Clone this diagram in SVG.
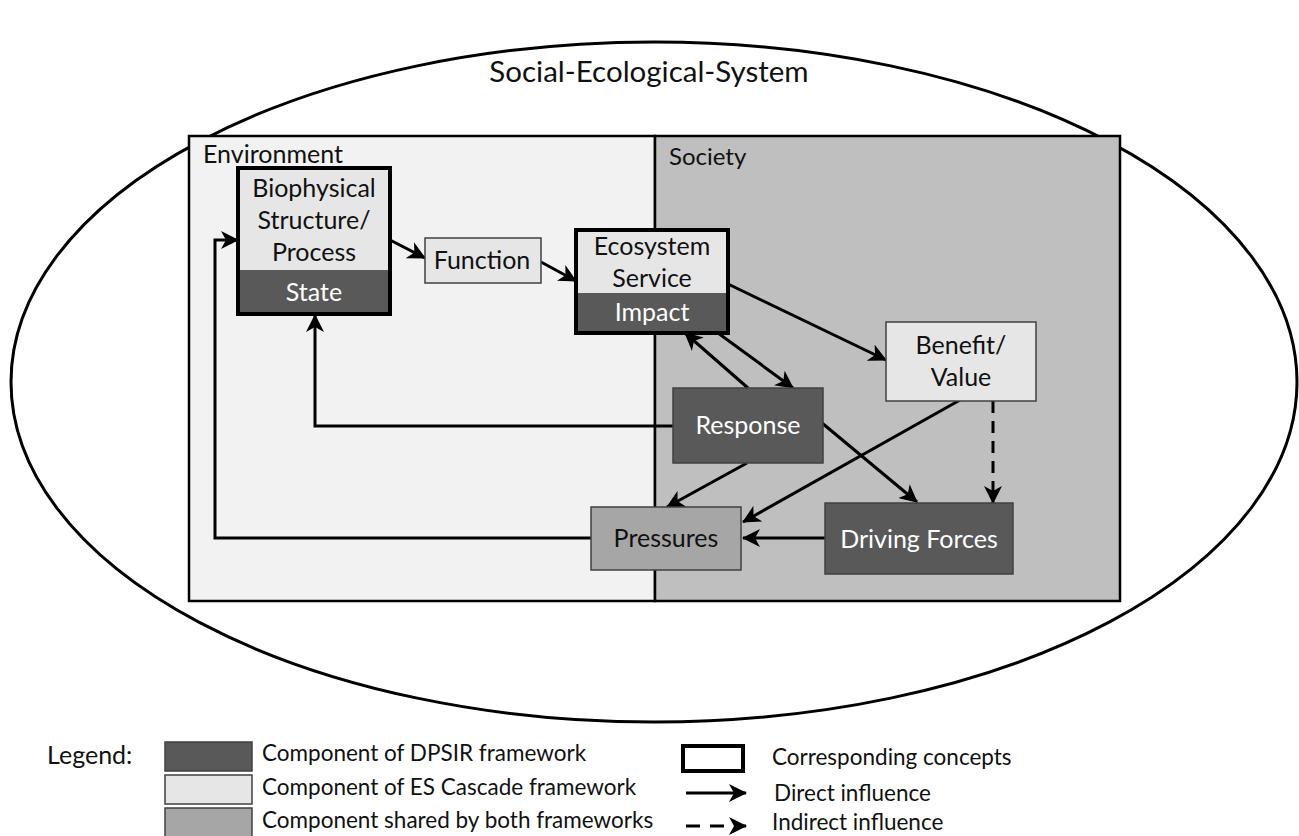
<svg xmlns="http://www.w3.org/2000/svg" width="1299" height="836" viewBox="0 0 1299 836">
<style>
text{font-family:Lato,"Liberation Sans",sans-serif;fill:#111}
.t{font-size:25px;text-anchor:middle}
.w{fill:#fff}
.lg{font-size:22.5px}
.dark{fill:#595959}
.light{fill:#e6e6e6}
.mid{fill:#a6a6a6}
.thin{stroke:#404040;stroke-width:1.5}
.thick{fill:none;stroke:#000;stroke-width:4}
.c{fill:none;stroke:#000;stroke-width:3}
.d{stroke-dasharray:12 8}
</style>
<defs>
<marker id="ah" markerUnits="userSpaceOnUse" markerWidth="20" markerHeight="18" refX="17" refY="9" orient="auto" viewBox="0 0 20 18">
<path d="M0,0 L18,9 L0,18 L5,9 z" fill="#000"/>
</marker>
</defs>
<rect width="1299" height="836" fill="#fff"/>
<g id="ses">
<ellipse cx="654" cy="382" rx="643" ry="340" fill="#fff" stroke="#000" stroke-width="3"/>
<text x="649" y="82" style="font-size:29.5px;text-anchor:middle">Social-Ecological-System</text>
</g>
<g id="environment">
<rect x="189" y="136" width="466" height="465" fill="#f2f2f2" stroke="#000" stroke-width="2.5"/>
<text x="203" y="163" style="font-size:25px">Environment</text>
</g>
<g id="society">
<rect x="655" y="136" width="465" height="465" fill="#bfbfbf" stroke="#000" stroke-width="2.5"/>
<text x="669" y="165" style="font-size:24px">Society</text>
</g>
<g id="connectors">
<line class="c" x1="390" y1="240" x2="425" y2="258" marker-end="url(#ah)"/>
<line class="c" x1="541" y1="262" x2="576" y2="281" marker-end="url(#ah)"/>
<polyline class="c" points="591,538 215,538 215,240 238,240" marker-end="url(#ah)"/>
<polyline class="c" points="673,426 315,426 315,315" marker-end="url(#ah)"/>
<line class="c" x1="728" y1="284" x2="886" y2="360" marker-end="url(#ah)"/>
<line class="c" x1="748" y1="388" x2="685" y2="333" marker-end="url(#ah)"/>
<line class="c" x1="718" y1="333" x2="793" y2="388" marker-end="url(#ah)"/>
<line class="c" x1="822" y1="423" x2="917" y2="502" marker-end="url(#ah)"/>
<line class="c" x1="747" y1="463" x2="667" y2="507" marker-end="url(#ah)"/>
<line class="c" x1="960" y1="400" x2="743" y2="522" marker-end="url(#ah)"/>
<line class="c" x1="825" y1="538" x2="743" y2="538" marker-end="url(#ah)"/>
<line class="c d" x1="993" y1="401" x2="993" y2="503" marker-end="url(#ah)"/>
</g>
<g id="biophysical">
<rect class="light" x="238" y="168" width="152" height="102"/>
<rect class="dark" x="238" y="270" width="152" height="44"/>
<rect class="thick" x="238" y="168" width="152" height="146"/>
<text class="t" x="314" y="197">Biophysical</text>
<text class="t" x="314" y="229">Structure/</text>
<text class="t" x="314" y="261">Process</text>
<text class="t w" x="314" y="301">State</text>
</g>
<g id="function">
<rect class="light thin" x="425" y="238" width="116" height="45"/>
<text class="t" x="482" y="269">Function</text>
</g>
<g id="ecosystem">
<rect class="light" x="576" y="230" width="152" height="63"/>
<rect class="dark" x="576" y="293" width="152" height="40"/>
<rect class="thick" x="576" y="230" width="152" height="103"/>
<text class="t" x="652" y="255">Ecosystem</text>
<text class="t" x="652" y="287">Service</text>
<text class="t w" x="652" y="321">Impact</text>
</g>
<g id="benefit">
<rect class="light thin" x="886" y="322" width="150" height="79"/>
<text class="t" x="961" y="354">Benefit/</text>
<text class="t" x="961" y="386">Value</text>
</g>
<g id="response">
<rect class="dark thin" x="673" y="388" width="150" height="75"/>
<text class="t w" x="748" y="434">Response</text>
</g>
<g id="pressures">
<rect class="mid thin" x="591" y="507" width="150" height="63"/>
<text class="t" x="666" y="547">Pressures</text>
</g>
<g id="driving">
<rect class="dark thin" x="825" y="503" width="188" height="71"/>
<text class="t w" x="919" y="548">Driving Forces</text>
</g>
<g id="legend">
<text x="47" y="764" style="font-size:25px">Legend:</text>
<rect class="dark thin" x="165" y="742" width="87" height="29"/>
<rect class="light thin" x="165" y="775" width="87" height="29"/>
<rect class="mid thin" x="165" y="808" width="87" height="30"/>
<text class="lg" x="262" y="761">Component of DPSIR framework</text>
<text class="lg" x="262" y="795">Component of ES Cascade framework</text>
<text class="lg" x="262" y="828">Component shared by both frameworks</text>
<rect class="thick" x="683" y="746" width="60" height="25"/>
<text class="lg" x="772" y="765">Corresponding concepts</text>
<line class="c" x1="686" y1="793" x2="746" y2="793" marker-end="url(#ah)"/>
<text class="lg" x="774" y="801">Direct influence</text>
<line class="c" x1="686" y1="826" x2="746" y2="826" stroke-dasharray="14 10" marker-end="url(#ah)"/>
<text class="lg" x="772" y="830">Indirect influence</text>
</g>
</svg>
